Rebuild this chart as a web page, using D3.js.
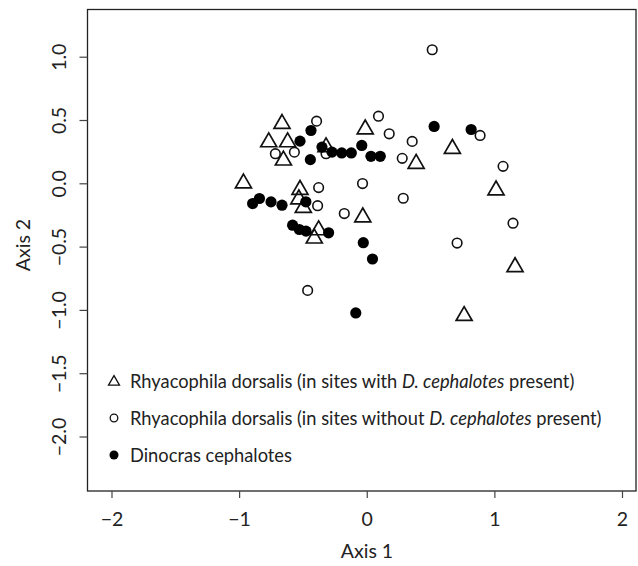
<!DOCTYPE html>
<html><head><meta charset="utf-8">
<script src="https://cdn.jsdelivr.net/npm/d3@7/dist/d3.min.js"></script>
<style>body{margin:0;background:#fff}svg{display:block}text{font-family:Lato,"Open Sans",sans-serif;fill:#222}</style>
</head><body><svg id="c" width="638" height="566"></svg>
<script>
// Rhyacophila dorsalis, sites with D. cephalotes present (open triangles)
const withX = [-0.664,-0.768,-0.620,-0.653,-0.319,-0.012,-0.966,-0.523,-0.532,-0.497,-0.377,-0.411,-0.031,0.387,0.671,1.013,1.162,0.763];
const withY = [0.470,0.325,0.325,0.181,0.286,0.427,0.0,-0.051,-0.126,-0.193,-0.370,-0.435,-0.268,0.155,0.273,-0.055,-0.661,-1.047];
// Rhyacophila dorsalis, sites without D. cephalotes present (open circles)
const withoutX = [0.513,0.356,0.278,0.888,1.068,0.286,1.146,0.708,0.092,0.176,-0.033,-0.176,-0.463,-0.393,-0.716,-0.567,-0.319,-0.377,-0.385];
const withoutY = [1.055,0.331,0.197,0.378,0.134,-0.118,-0.315,-0.472,0.530,0.391,-0.002,-0.239,-0.846,0.491,0.234,0.246,0.234,-0.034,-0.177];
// Dinocras cephalotes (filled circles)
const dinoX = [-0.437,-0.523,-0.351,-0.442,-0.272,-0.196,-0.121,-0.039,0.033,0.106,0.528,0.818,-0.894,-0.841,-0.750,-0.664,-0.477,-0.581,-0.528,-0.476,-0.299,-0.027,0.045,-0.086];
const dinoY = [0.417,0.333,0.286,0.187,0.246,0.240,0.240,0.299,0.213,0.213,0.449,0.425,-0.160,-0.120,-0.147,-0.173,-0.146,-0.331,-0.365,-0.378,-0.391,-0.469,-0.598,-1.024];
const xTicks = [-2,-1,0,1,2];
const yTicks = [-2.0,-1.5,-1.0,-0.5,0.0,0.5,1.0];
const legendLabels = ["Rhyacophila dorsalis (in sites with ", "Rhyacophila dorsalis (in sites without ", "Dinocras cephalotes"];

const svg = d3.select("#c");
const x = d3.scaleLinear().domain([-2,2]).range([111.5,622]);
const y = d3.scaleLinear().domain([-2,1]).range([436.5,56.7]);
const box = {l:87.5, r:636, t:9.5, b:491};
const fmtX = d => (d<0?"\u2212":"") + Math.abs(d);
const fmtY = d => (d<0?"\u2212":"") + Math.abs(d).toFixed(1);

svg.append("rect").attr("x",box.l).attr("y",box.t).attr("width",box.r-box.l).attr("height",box.b-box.t)
  .attr("fill","none").attr("stroke","#222").attr("stroke-width",1.3);

// axes
const gx = svg.append("g").attr("transform",`translate(0,${box.b})`)
  .call(d3.axisBottom(x).tickValues(xTicks).tickSize(7).tickPadding(14).tickFormat(fmtX));
gx.select(".domain").remove();
gx.selectAll("line").attr("stroke","#444").attr("stroke-width",1.2);
gx.selectAll("text").attr("font-size",19.5).attr("fill","#222").style("font-family","Lato,sans-serif");

const gy = svg.append("g").attr("transform",`translate(${box.l},0)`)
  .call(d3.axisLeft(y).tickValues(yTicks).tickSize(8).tickFormat(fmtY));
gy.select(".domain").remove();
gy.selectAll("line").attr("stroke","#444").attr("stroke-width",1.2);
gy.selectAll("text").attr("font-size",19.5).attr("fill","#222").style("font-family","Lato,sans-serif")
  .attr("x",null).attr("dy",null).attr("text-anchor","middle").attr("dominant-baseline","central")
  .attr("transform","translate(-29,0) rotate(-90)");

svg.append("text").attr("x",367).attr("y",550).attr("text-anchor","middle").attr("dominant-baseline","central")
  .attr("font-size",19.5).text("Axis 1");
svg.append("text").attr("transform","translate(22,245) rotate(-90)").attr("text-anchor","middle")
  .attr("dominant-baseline","central").attr("font-size",19.5).text("Axis 2");

const tri = (s)=>{const h=s*0.866;return `M0,${-h*2/3}L${s/2},${h/3}L${-s/2},${h/3}Z`;};

const g = svg.append("g");
// triangles
g.selectAll(".t").data(d3.range(withX.length)).join("path")
  .attr("transform",i=>`translate(${x(withX[i])},${y(withY[i])})`)
  .attr("d",tri(16)).attr("fill","none").attr("stroke","#111").attr("stroke-width",1.7);
// open circles
g.selectAll(".o").data(d3.range(withoutX.length)).join("circle")
  .attr("cx",i=>x(withoutX[i])).attr("cy",i=>y(withoutY[i])).attr("r",4.8)
  .attr("fill","none").attr("stroke","#111").attr("stroke-width",1.6);
// filled
g.selectAll(".f").data(d3.range(dinoX.length)).join("circle")
  .attr("cx",i=>x(dinoX[i])).attr("cy",i=>y(dinoY[i])).attr("r",5.6)
  .attr("fill","#000");

// legend
const lg = svg.append("g");
const ly = [381,418,455];
lg.append("path").attr("transform",`translate(114,${ly[0]+1})`).attr("d",tri(11)).attr("fill","none").attr("stroke","#111").attr("stroke-width",1.3);
lg.append("circle").attr("cx",114).attr("cy",ly[1]).attr("r",3.8).attr("fill","none").attr("stroke","#111").attr("stroke-width",1.3);
lg.append("circle").attr("cx",114).attr("cy",ly[2]).attr("r",4.5).attr("fill","#000");
[0,1,2].forEach(k=>{
  const t = lg.append("text").attr("x",130).attr("y",ly[k]).attr("dominant-baseline","central").attr("font-size",18.3);
  t.append("tspan").text(legendLabels[k]);
  if(k<2){
    t.append("tspan").attr("font-style","italic").text("D. cephalotes");
    t.append("tspan").text(" present)");
  }
});
</script></body></html>
